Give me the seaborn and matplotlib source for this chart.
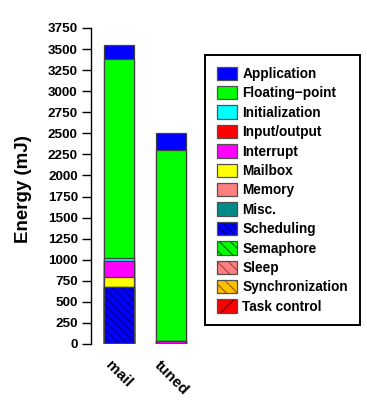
import matplotlib
matplotlib.use("Agg")
import matplotlib.pyplot as plt
import numpy as np
import pandas as pd
import seaborn as sns
from matplotlib.patches import Patch

# Energy breakdown per program (mJ), one list per component
programs = ["mail", "tuned"]
components = ["Application", "Floating\u2212point", "Initialization", "Input/output",
              "Interrupt", "Mailbox", "Memory", "Misc.", "Scheduling", "Semaphore",
              "Sleep", "Synchronization", "Task control"]
application = [165, 200]
floating_point = [2368, 2260]
initialization = [28, 0]
input_output = [0, 0]
interrupt = [190, 40]
mailbox = [126, 0]
memory = [0, 0]
misc = [0, 0]
scheduling = [663, 0]
semaphore = [10, 0]
sleep = [0, 0]
synchronization = [0, 0]
task_control = [0, 0]
y_ticks = list(range(0, 3751, 250))

series = [application, floating_point, initialization, input_output, interrupt,
          mailbox, memory, misc, scheduling, semaphore, sleep, synchronization,
          task_control]

fills = ["#0000ff", "#00ff00", "#00ffff", "#ff0000", "#ff00ff", "#ffff00", "#ff8080",
         "#008b8b", "#0000ff", "#00ff00", "#ff8080", "#ffc000", "#ff0000"]
hatches = [None] * 8 + ["\\\\\\\\", "\\\\\\", "\\\\\\", "\\\\\\", "//"]
hatch_colors = [None] * 8 + ["#000080", "#007000", "#b04848", "#a06000", "#800000"]
outline = "#404040"

sns.set_theme(style="white")
plt.rcParams["font.family"] = ["Liberation Sans", "DejaVu Sans"]
plt.rcParams["font.weight"] = "bold"
plt.rcParams["hatch.linewidth"] = 0.9
for key in ["text.color", "axes.labelcolor", "xtick.color", "ytick.color"]:
    plt.rcParams[key] = "black"

fig = plt.figure(figsize=(3.67, 4.12), dpi=100)
ax = fig.add_axes([91 / 367, 1 - 344 / 412, 109 / 367, 316 / 412])

# Stack from the last component (bottom) to the first (top): cumulative heights
values = np.array(series, dtype=float)
stack_tops = np.cumsum(values[::-1], axis=0)[::-1]

width = 0.57
for i in range(len(components)):
    df = pd.DataFrame({"program": programs, "top": stack_tops[i]})
    if hatches[i]:
        sns.barplot(data=df, x="program", y="top", color=fills[i], saturation=1,
                    width=width, errorbar=None, ax=ax, hatch=hatches[i],
                    edgecolor=hatch_colors[i], linewidth=0)
    else:
        sns.barplot(data=df, x="program", y="top", color=fills[i], saturation=1,
                    width=width, errorbar=None, ax=ax, linewidth=0)
    sns.barplot(data=df, x="program", y="top", width=width, errorbar=None, ax=ax,
                fill=False, edgecolor=outline, linewidth=0.9)

ax.set_xlim(-0.538, 1.558)
ax.set_ylim(0, 3750)
ax.set_yticks(y_ticks)
ax.set_yticklabels([str(t) for t in y_ticks], fontsize=9.7, fontweight="bold")
ax.set_xlabel("")
ax.set_ylabel("")
for s in ["top", "right", "bottom"]:
    ax.spines[s].set_visible(False)
ax.spines["left"].set_color("black")
ax.spines["left"].set_linewidth(1.0)
ax.tick_params(axis="y", direction="out", length=6.5, width=1.0, color="black",
               pad=3, left=True, labelcolor="black")
ax.tick_params(axis="x", length=0, pad=10, labelcolor="black")
for lab in ax.get_xticklabels():
    lab.set_rotation(-45)
    lab.set_ha("center")
    lab.set_va("top")
    lab.set_fontsize(11)
    lab.set_fontweight("bold")

fig.text(24 / 367, 1 - 189 / 412, "Energy (mJ)", rotation=90, ha="center",
         va="center", fontsize=13.5, fontweight="bold", color="black")

handles = []
for i in range(len(components)):
    if hatches[i]:
        h = (Patch(facecolor=fills[i], edgecolor=hatch_colors[i], hatch=hatches[i],
                   linewidth=0),
             Patch(facecolor="none", edgecolor="#505050", linewidth=0.9))
    else:
        h = Patch(facecolor=fills[i], edgecolor="#505050", linewidth=0.9)
    handles.append(h)

leg = fig.legend(handles, components, loc="upper left",
                 bbox_to_anchor=(205 / 367, 1 - 55 / 412), borderaxespad=0,
                 frameon=True, fancybox=False, framealpha=1, edgecolor="black",
                 prop={"size": 9.8, "weight": "bold"}, handlelength=1.5,
                 handleheight=1.15, handletextpad=0.4, labelspacing=0.37,
                 borderpad=0.85)
leg.get_frame().set_linewidth(1.4)
for t in leg.get_texts():
    t.set_color("black")

fig.savefig("out.png", dpi=100)
